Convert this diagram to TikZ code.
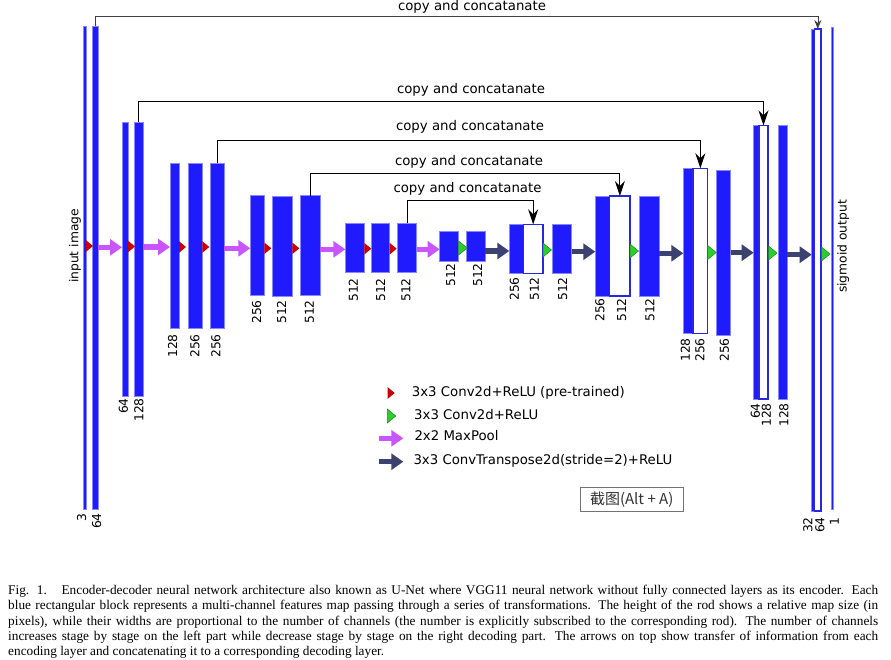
\documentclass[tikz,border=0pt]{standalone}
\usepackage{fontspec}
\usetikzlibrary{arrows.meta}
\newfontfamily\dv{DejaVu Sans}
\newfontfamily\tms{Liberation Serif}
\newfontfamily\cjk{Noto Sans CJK SC}
\definecolor{rodfill}{RGB}{32,26,255}
\definecolor{rodedge}{RGB}{135,135,255}
\definecolor{wedge}{RGB}{40,40,225}
\definecolor{pinkc}{RGB}{200,85,255}
\definecolor{navyc}{RGB}{60,66,112}
\definecolor{redc}{RGB}{205,0,0}
\definecolor{greenc}{RGB}{45,205,45}
\definecolor{greene}{RGB}{25,140,25}
\tikzset{
  rodbox/.style={fill=rodfill, draw=rodedge, line width=0.7pt, inner sep=0pt, outer sep=0pt},
  whitebox/.style={fill=white, draw=wedge, line width=1.3pt, inner sep=0pt, outer sep=0pt},
  lbl/.style={rotate=90, anchor=east, inner sep=0pt, font=\dv\fontsize{12.3}{14}\selectfont},
  sidelbl/.style={rotate=90, inner sep=0pt, font=\dv\fontsize{12.3}{14}\selectfont},
  cctext/.style={inner sep=0pt, font=\dv\fontsize{13.3}{15}\selectfont},
  legtext/.style={inner sep=0pt, anchor=west, font=\dv\fontsize{13.3}{15}\selectfont},
  cc/.style={draw=black, line width=0.9pt},
  pinkarrow/.style={draw=pinkc, line width=5.5pt, -{Triangle[length=12pt,width=16pt]}},
  navyarrow/.style={draw=navyc, line width=5.5pt, -{Triangle[length=12pt,width=16pt]}},
  captext/.style={inner sep=0pt, anchor=base west, font=\tms\fontsize{13.3}{15}\selectfont},
}
\newcommand\rodb[5]{\node[rodbox, minimum width={#3-#2}, minimum height={#5-#4}] (#1) at ({(#2+#3)/2},{(#4+#5)/2}) {};}
\newcommand\rodw[5]{\node[whitebox, minimum width={#3-#2}, minimum height={#5-#4}] (#1) at ({(#2+#3)/2},{(#4+#5)/2}) {};}
\newcommand\redtri[2]{\fill[redc] (#1,#2-5.8) -- (#1+7,#2) -- (#1,#2+5.8) -- cycle;}
\newcommand\greentri[2]{\filldraw[fill=greenc, draw=greene, line width=0.5pt] (#1,#2-7) -- (#1+8.5,#2) -- (#1,#2+7) -- cycle;}
\newcommand\lab[3]{\node[lbl] at (#1,#2) {#3};}
\begin{document}
\begin{tikzpicture}[x=1pt,y=-1pt]
\useasboundingbox[fill=white] (0,0) rectangle (891,659);
% ---------- rods ----------
\rodb{s1a}{83}{86}{26}{509}
\rodb{s1b}{92}{98}{26}{509}
\rodb{s2a}{122}{128}{122}{396}
\rodb{s2b}{134}{143}{122}{396}
\rodb{s3a}{170}{179}{163}{328}
\rodb{s3b}{188.3}{202.3}{163}{328}
\rodb{s3c}{210.3}{224.3}{163}{328}
\rodb{s4a}{250.3}{264.3}{195.5}{295}
\rodb{s4b}{272}{292.3}{196}{296}
\rodb{s4c}{300}{320}{195.5}{295}
\rodb{s5a}{345.3}{364.3}{223}{272.3}
\rodb{s5b}{371}{389.7}{223}{272.3}
\rodb{s5c}{397.3}{416.7}{223}{272.3}
\rodb{s6a}{439.7}{458.7}{231.3}{261.3}
\rodb{s6b}{466.3}{485.3}{231.3}{261.3}
\rodb{d5a}{509.3}{523.3}{224.3}{273.3}
\rodw{d5w}{523.3}{543}{224.3}{273.3}
\rodb{d5b}{552.7}{571.7}{224.3}{273.3}
\rodb{d4a}{595.3}{609.7}{196}{296}
\rodw{d4w}{609.7}{630}{196}{296}
\rodb{d4b}{639.3}{659.3}{196}{296}
\rodb{d3a}{683.3}{693}{168.3}{333.7}
\rodw{d3w}{693}{707.7}{168.3}{333.7}
\rodb{d3b}{716.7}{730.7}{170}{335}
\rodb{d2a}{753.7}{759}{125.3}{399}
\rodw{d2w}{759}{768}{125.3}{399}
\rodb{d2b}{778.3}{787.3}{125.3}{399}
\rodb{d1a}{811.7}{814.7}{29}{511}
\rodw{d1w}{814.7}{821}{29}{511}
\rodb{d1b}{831.3}{833.7}{27.3}{509.3}
% ---------- conv markers ----------
\redtri{86}{246}
\redtri{128}{246.5}
\redtri{179}{247}
\redtri{202.3}{247}
\redtri{264.3}{248.3}
\redtri{292.3}{248.3}
\redtri{364.3}{248.7}
\redtri{389.7}{248.7}
\greentri{458.7}{248}
\greentri{543}{250}
\greentri{630}{251}
\greentri{707.7}{252.5}
\greentri{768.5}{253}
\greentri{821.5}{254}
% ---------- pool / upconv arrows ----------
\coordinate (p1) at (0,247.3);
\coordinate (p2) at (0,247);
\coordinate (p3) at (0,248.3);
\coordinate (p4) at (0,249.3);
\coordinate (p5) at (0,249.3);
\draw[pinkarrow] (s1b.east |- p1) -- (s2a.west |- p1);
\draw[pinkarrow] (s2b.east |- p2) -- (s3a.west |- p2);
\draw[pinkarrow] (s3c.east |- p3) -- (s4a.west |- p3);
\draw[pinkarrow] (s4c.east |- p4) -- (s5a.west |- p4);
\draw[pinkarrow] (s5c.east |- p5) -- (s6a.west |- p5);
\coordinate (n1) at (0,251);
\coordinate (n2) at (0,251.7);
\coordinate (n3) at (0,253.3);
\coordinate (n4) at (0,252.7);
\coordinate (n5) at (0,254.7);
\draw[navyarrow] (s6b.east |- n1) -- (d5a.west |- n1);
\draw[navyarrow] (d5b.east |- n2) -- (d4a.west |- n2);
\draw[navyarrow] (d4b.east |- n3) -- (d3a.west |- n3);
\draw[navyarrow] (d3b.east |- n4) -- (d2a.west |- n4);
\draw[navyarrow] (d2b.east |- n5) -- (d1a.west |- n5);
% ---------- copy and concatenate ----------
\coordinate (h1) at (0,16);
\coordinate (h2) at (0,101.5);
\coordinate (h3) at (0,140);
\coordinate (h4) at (0,173);
\coordinate (h5) at (0,200);
\draw[cc, draw=black!75, line width=0.7pt, -{Stealth[length=9pt,width=7pt,inset=3pt]}] (s1b.north) -- (s1b.north |- h1) -| (d1w.north);
\draw[cc, -{Stealth[length=15pt,width=10pt,inset=5pt]}] (s2b.north) -- (s2b.north |- h2) -| (d2w.north);
\draw[cc, -{Stealth[length=15pt,width=10pt,inset=5pt]}] (s3c.north) -- (s3c.north |- h3) -| (d3w.north);
\draw[cc, -{Stealth[length=15pt,width=10pt,inset=5pt]}] (s4c.north) -- (s4c.north |- h4) -| (d4w.north);
\draw[cc, -{Stealth[length=15pt,width=10pt,inset=5pt]}] (s5c.north) -- (s5c.north |- h5) -| (d5w.north);
\node[cctext] (t1) at (472,7) {copy and concatanate};
\node[cctext] (t2) at (471,90) {copy and concatanate};
\node[cctext] (t3) at (470,127) {copy and concatanate};
\node[cctext] (t4) at (469,161.5) {copy and concatanate};
\node[cctext] (t5) at (467.5,188.5) {copy and concatanate};
% ---------- side labels ----------
\node[sidelbl] (inimg) at (75,246) {input image};
\node[sidelbl] (sigout) at (843.3,246.5) {sigmoid output};
% ---------- channel labels ----------
\lab{81.7}{513}{3}
\lab{96.7}{513}{64}
\lab{123.3}{398}{64}
\lab{139}{398}{128}
\lab{172.7}{334}{128}
\lab{195}{334}{256}
\lab{216}{334}{256}
\lab{256.7}{300}{256}
\lab{281.7}{300}{512}
\lab{309.3}{300}{512}
\lab{353.3}{278}{512}
\lab{380.7}{278}{512}
\lab{406}{278}{512}
\lab{450.7}{263}{512}
\lab{477.7}{263}{512}
\lab{514.3}{277}{256}
\lab{534.3}{277}{512}
\lab{562.7}{277}{512}
\lab{600}{298}{256}
\lab{621.7}{298}{512}
\lab{650}{298}{512}
\lab{685.5}{338}{128}
\lab{700}{338}{256}
\lab{724.3}{338}{256}
\lab{755.5}{403}{64}
\lab{766.5}{403}{128}
\lab{784}{403}{128}
\lab{807.8}{517}{32}
\lab{820}{517}{64}
\lab{834.3}{517}{1}
% ---------- legend ----------
\redtri{387.7}{393}
\greentri{387.3}{416}
\coordinate (lp1) at (379,438.3);
\coordinate (lp2) at (403.3,438.3);
\coordinate (ln1) at (379,461.7);
\coordinate (ln2) at (403.3,461.7);
\draw[pinkarrow] (lp1) -- (lp2);
\draw[navyarrow] (ln1) -- (ln2);
\node[legtext] (l1) at (411.7,393.3) {3x3 Conv2d+ReLU (pre-trained)};
\node[legtext] (l2) at (414,415) {3x3 Conv2d+ReLU};
\node[legtext] (l3) at (414.3,435.7) {2x2 MaxPool};
\node[legtext] (l4) at (413.3,460.7) {3x3 ConvTranspose2d(stride=2)+ReLU};
\node[draw=black!55, line width=0.8pt, minimum width=103.3, minimum height=24.4, inner sep=0pt, outer sep=0pt] (shot) at (631.7,499.5) {};
\node[inner sep=0pt, text=black!80, font=\cjk\fontsize{15}{17}\selectfont] (shottext) at (shot.center) {截图(Alt + A)};
% ---------- caption ----------
\node[captext] (c1) at (8,594.5) {\makebox[870pt][s]{Fig. 1.\hspace{1.1em}Encoder-decoder neural network architecture also known as U-Net where VGG11 neural network without fully connected layers as its encoder. Each}};
\node[captext] (c2) at (8,609.8) {\makebox[870pt][s]{blue rectangular block represents a multi-channel features map passing through a series of transformations. The height of the rod shows a relative map size (in}};
\node[captext] (c3) at (8,625.1) {\makebox[870pt][s]{pixels), while their widths are proportional to the number of channels (the number is explicitly subscribed to the corresponding rod). The number of channels}};
\node[captext] (c4) at (8,640.4) {\makebox[870pt][s]{increases stage by stage on the left part while decrease stage by stage on the right decoding part. The arrows on top show transfer of information from each}};
\node[captext] (c5) at (8,655.7) {encoding layer and concatenating it to a corresponding decoding layer.};
\end{tikzpicture}
\end{document}
